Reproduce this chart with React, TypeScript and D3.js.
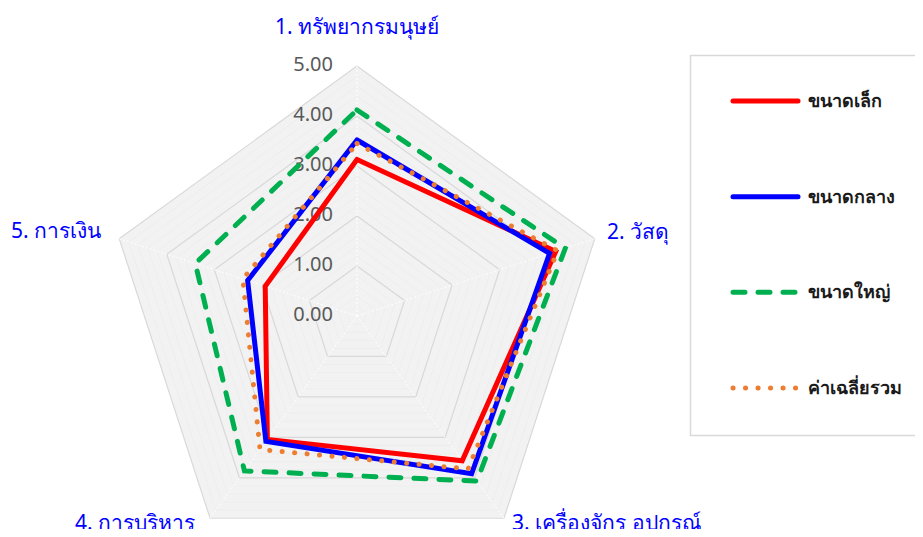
import React, { useRef, useEffect } from "react";
import * as d3 from "d3";

const categories = ["1. ทรัพยากรมนุษย์", "2. วัสดุ", "3. เครื่องจักร อุปกรณ์", "4. การบริหาร", "5. การเงิน"];
const seriesNames = ["ขนาดเล็ก", "ขนาดกลาง", "ขนาดใหญ่", "ค่าเฉลี่ยรวม"];
const smallValues = [3.13, 4.18, 3.58, 3.05, 1.93];
const mediumValues = [3.52, 4.05, 3.9, 3.1, 2.3];
const largeValues = [4.12, 4.38, 4.08, 3.83, 3.4];
const averageValues = [3.45, 4.22, 3.78, 3.3, 2.4];
const tickValues = [0, 1, 2, 3, 4, 5];

const seriesStyles = [
  { color: "#ff0000", dash: null as string | null, width: 5 },
  { color: "#0000ff", dash: null, width: 5 },
  { color: "#00b050", dash: "12 13", width: 5 },
  { color: "#ed7d31", dash: "0.1 12.4", width: 5 },
];

const font = "'Noto Sans', 'Open Sans', sans-serif";

export default function App() {
  const ref = useRef<SVGSVGElement>(null);

  useEffect(() => {
    if (!ref.current) return;
    const svg = d3.select(ref.current);
    svg.selectAll("*").remove();

    const cx = 357;
    const cy = 316;
    const r = d3.scaleLinear().domain([0, 5]).range([0, 250]);
    const angle = (i: number) => -Math.PI / 2 + (i * 2 * Math.PI) / categories.length;
    const pt = (i: number, v: number): [number, number] => [cx + r(v) * Math.cos(angle(i)), cy + r(v) * Math.sin(angle(i))];
    const ringPath = (v: number) => d3.line()(categories.map((_, i) => pt(i, v)).concat([pt(0, v)]))!;

    const g = svg.append("g");

    // background + grid
    g.append("path").attr("d", ringPath(5)).attr("fill", "#f2f2f2").attr("stroke", "none");
    d3.range(0.2, 5, 0.2).forEach(v => {
      g.append("path").attr("d", ringPath(v)).attr("fill", "none").attr("stroke", "#ebebeb").attr("stroke-width", 0.6);
    });
    tickValues.slice(1).forEach(v => {
      g.append("path").attr("d", ringPath(v)).attr("fill", "none").attr("stroke", "#d9d9d9").attr("stroke-width", 1.2);
    });
    categories.forEach((_, i) => {
      const [x, y] = pt(i, 5);
      g.append("line").attr("x1", cx).attr("y1", cy).attr("x2", x).attr("y2", y)
        .attr("stroke", "#ffffff").attr("stroke-width", 1).attr("stroke-dasharray", "2 2");
    });

    // tick labels
    tickValues.forEach(v => {
      g.append("text").attr("x", cx - 24).attr("y", cy - r(v) + 5)
        .attr("text-anchor", "end").attr("font-family", font).attr("font-size", 20)
        .attr("fill", "#595959").text(v.toFixed(2));
    });

    // series
    const allSeries = [smallValues, mediumValues, largeValues, averageValues];
    allSeries.forEach((vals, s) => {
      const st = seriesStyles[s];
      const pts = vals.map((v, i) => pt(i, v));
      const p = g.append("path").attr("d", d3.line()(pts.concat([pts[0]]))!)
        .attr("fill", "none").attr("stroke", st.color).attr("stroke-width", st.width)
        .attr("stroke-linejoin", "miter").attr("stroke-linecap", "round");
      if (st.dash) p.attr("stroke-dasharray", st.dash);
    });

    // category labels
    const labelPos: [number, number, string][] = [
      [357, 34, "middle"],
      [607, 239, "start"],
      [512, 530, "start"],
      [195, 530, "end"],
      [101, 238, "end"],
    ];
    categories.forEach((c, i) => {
      const [x, y, anchor] = labelPos[i];
      g.append("text").attr("x", x).attr("y", y).attr("text-anchor", anchor)
        .attr("font-family", font).attr("font-size", 21).attr("fill", "#0000ff").text(c);
    });

    // legend
    const lg = svg.append("g");
    lg.append("rect").attr("x", 690.5).attr("y", 55.5).attr("width", 250).attr("height", 380)
      .attr("fill", "#ffffff").attr("stroke", "#d9d9d9").attr("stroke-width", 1.5);
    const ly = d3.scalePoint().domain(seriesNames).range([101, 388]);
    seriesNames.forEach((name, s) => {
      const st = seriesStyles[s];
      const y = ly(name)!;
      const l = lg.append("line").attr("x1", 733).attr("x2", 798).attr("y1", y).attr("y2", y)
        .attr("stroke", st.color).attr("stroke-width", st.width).attr("stroke-linecap", "round");
      if (st.dash) l.attr("stroke-dasharray", st.dash);
      lg.append("text").attr("x", 808).attr("y", y + 6).attr("font-family", font).attr("font-size", 18)
        .attr("font-weight", 600).attr("fill", "#1a1a1a").text(name);
    });
  }, []);

  return (
    <div style={{ margin: -8 }}>
      <svg ref={ref} width={923} height={537} style={{ display: "block", background: "#fff" }} />
    </div>
  );
}
